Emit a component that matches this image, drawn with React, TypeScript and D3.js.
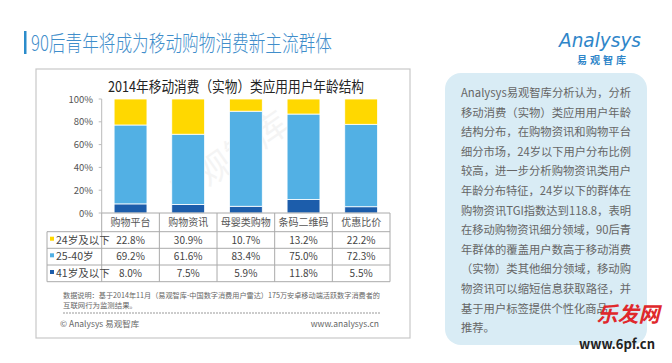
import React from "react";
import * as d3 from "d3";

const categories = ["购物平台", "购物资讯", "母婴类购物", "条码二维码", "优惠比价"];
const seriesNames = ["24岁及以下", "25-40岁", "41岁及以下"];
const young = [22.8, 30.9, 10.7, 13.2, 22.2];
const middle = [69.2, 61.6, 83.4, 75.0, 72.3];
const older = [8.0, 7.5, 5.9, 11.8, 5.5];
const yTicks = [0, 20, 40, 60, 80, 100];
const colors = ["#FFD800", "#52B0E4", "#1C5DAB"];
const panelLines = [
  "Analysys易观智库分析认为，分析",
  "移动消费（实物）类应用用户年龄",
  "结构分布，在购物资讯和购物平台",
  "细分市场，24岁以下用户分布比例",
  "较高，进一步分析购物资讯类用户",
  "年龄分布特征，24岁以下的群体在",
  "购物资讯TGI指数达到118.8，表明",
  "在移动购物资讯细分领域，90后青",
  "年群体的覆盖用户数高于移动消费",
  "（实物）类其他细分领域，移动购",
  "物资讯可以缩短信息获取路径，并",
  "基于用户标签提供个性化商品",
  "推荐。",
];

const FONT = "'Noto Sans CJK SC', 'Noto Sans', sans-serif";

export default function App() {
  const tableLeft = 47;
  const axisX = 101.7;
  const right = 390;
  const x = d3.scaleBand<string>().domain(categories).range([axisX, right]).paddingInner(0.43).paddingOuter(0.215);
  const step = x.step();
  const y = d3.scaleLinear().domain([0, 100]).range([213, 99]);

  const rows = categories.map((c, i) => ({ cat: c, older: older[i], middle: middle[i], young: young[i] }));
  const stack = d3.stack<any>().keys(["older", "middle", "young"]);
  const layers = stack(rows);
  const layerColor: Record<string, string> = { older: colors[2], middle: colors[1], young: colors[0] };

  const rowTops = [213, 231.7, 248.3, 265, 281.7];
  const tableVals = [young, middle, older];

  return (
    <svg width={672} height={363} style={{ position: "absolute", left: 0, top: 0, background: "#fff" }} fontFamily={FONT}>
      {/* page title */}
      <rect x={24} y={31} width={2.5} height={23} fill="#2B8CCB" />
      <text x={31} y={51} fontSize={22} fontWeight={300} fill="#3F8ECB" textLength={301} lengthAdjust="spacingAndGlyphs">
        90后青年将成为移动购物消费新主流群体
      </text>

      {/* logo */}
      <text x={600} y={47} textAnchor="middle" fontSize={20} fontStyle="italic" fill="#2F86C9" fontFamily="'DejaVu Sans', sans-serif" textLength={82} lengthAdjust="spacingAndGlyphs">
        Analysys
      </text>
      <text x={603} y={64} textAnchor="middle" fontSize={10} fontWeight="bold" fill="#2F86C9" letterSpacing={3}>
        易观智库
      </text>

      {/* chart frame */}
      <rect x={36} y={69} width={374} height={269} fill="#fff" stroke="#c8c8c8" strokeWidth={1.2} />
      <text x={236} y={92} textAnchor="middle" fontSize={15} fill="#222" textLength={256} lengthAdjust="spacingAndGlyphs">
        2014年移动消费（实物）类应用用户年龄结构
      </text>

      {/* faint watermark */}
      <text x={230} y={170} textAnchor="middle" fontSize={34} fill="#000" opacity={0.04} transform="rotate(-35 230 160)">
        易观智库
      </text>

      {/* y axis */}
      <line x1={axisX} x2={axisX} y1={y(100)} y2={y(0)} stroke="#bbb" />
      {yTicks.map((t) => (
        <g key={t}>
          <line x1={axisX - 3} x2={axisX} y1={y(t)} y2={y(t)} stroke="#bbb" />
          <text x={93} y={y(t) + 3.5} textAnchor="end" fontSize={9.5} fill="#555">
            {t}%
          </text>
        </g>
      ))}

      {/* bars */}
      {layers.map((layer) => (
        <g key={layer.key}>
          {layer.map((d, i) => (
            <rect
              key={i}
              x={x(categories[i])}
              y={y(d[1])}
              width={x.bandwidth()}
              height={y(d[0]) - y(d[1])}
              fill={layerColor[layer.key]}
              stroke="#fff"
              strokeWidth={0.8}
            />
          ))}
        </g>
      ))}

      {/* table */}
      <line x1={axisX} x2={right} y1={213} y2={213} stroke="#aaa" />
      {rowTops.slice(1).map((ry) => (
        <line key={ry} x1={tableLeft} x2={right} y1={ry} y2={ry} stroke="#aaa" />
      ))}
      <line x1={tableLeft} x2={tableLeft} y1={rowTops[1]} y2={rowTops[4]} stroke="#aaa" />
      {categories.map((c, i) => (
        <line key={c} x1={axisX + step * (i + 1)} x2={axisX + step * (i + 1)} y1={213} y2={rowTops[4]} stroke="#aaa" />
      ))}
      <line x1={axisX} x2={axisX} y1={213} y2={rowTops[4]} stroke="#aaa" />
      {categories.map((c) => (
        <text key={c} x={(x(c) as number) + x.bandwidth() / 2} y={226} textAnchor="middle" fontSize={10} fill="#555">
          {c}
        </text>
      ))}
      {seriesNames.map((s, r) => (
        <g key={s}>
          <rect x={50} y={rowTops[r + 1] + 5} width={4} height={4} fill={colors[r]} />
          <text x={56} y={rowTops[r + 1] + 12} fontSize={10.5} fill="#444">
            {s}
          </text>
          {tableVals[r].map((v, i) => (
            <text key={i} x={(x(categories[i]) as number) + x.bandwidth() / 2} y={rowTops[r + 1] + 12} textAnchor="middle" fontSize={10} fill="#444">
              {v.toFixed(1)}%
            </text>
          ))}
        </g>
      ))}

      {/* notes */}
      <text x={63} y={297.5} fontSize={7.4} fill="#666" textLength={317} lengthAdjust="spacingAndGlyphs">
        数据说明：基于2014年11月（易观智库-中国数字消费用户雷达）175万安卓移动端活跃数字消费者的
      </text>
      <text x={63} y={307.5} fontSize={7.4} fill="#666">
        互联网行为监测结果。
      </text>
      <line x1={63} x2={380} y1={313} y2={313} stroke="#999" strokeDasharray="2,1" />
      <text x={60} y={327} fontSize={8.5} fill="#666">
        © Analysys 易观智库
      </text>
      <text x={379} y={327} textAnchor="end" fontSize={8.5} fill="#666">
        www.analysys.cn
      </text>

      {/* right panel */}
      <rect x={445} y={73} width={202} height={272} rx={16} fill="#D9ECF5" />
      {panelLines.map((l, i) => (
        <text key={i} x={461} y={97 + i * 19.6} fontSize={11.3} fill="#666" textLength={i >= 11 ? undefined : 170} lengthAdjust="spacingAndGlyphs">
          {l}
        </text>
      ))}

      {/* site watermark */}
      <text x={628} y={322} textAnchor="middle" fontSize={21} fontWeight="bold" fill="#E0282C" fontStyle="italic">
        乐发网
      </text>
      <text x={617} y={349} textAnchor="middle" fontSize={13} fontWeight="bold" fill="#222">
        www.6pf.cn
      </text>
    </svg>
  );
}
